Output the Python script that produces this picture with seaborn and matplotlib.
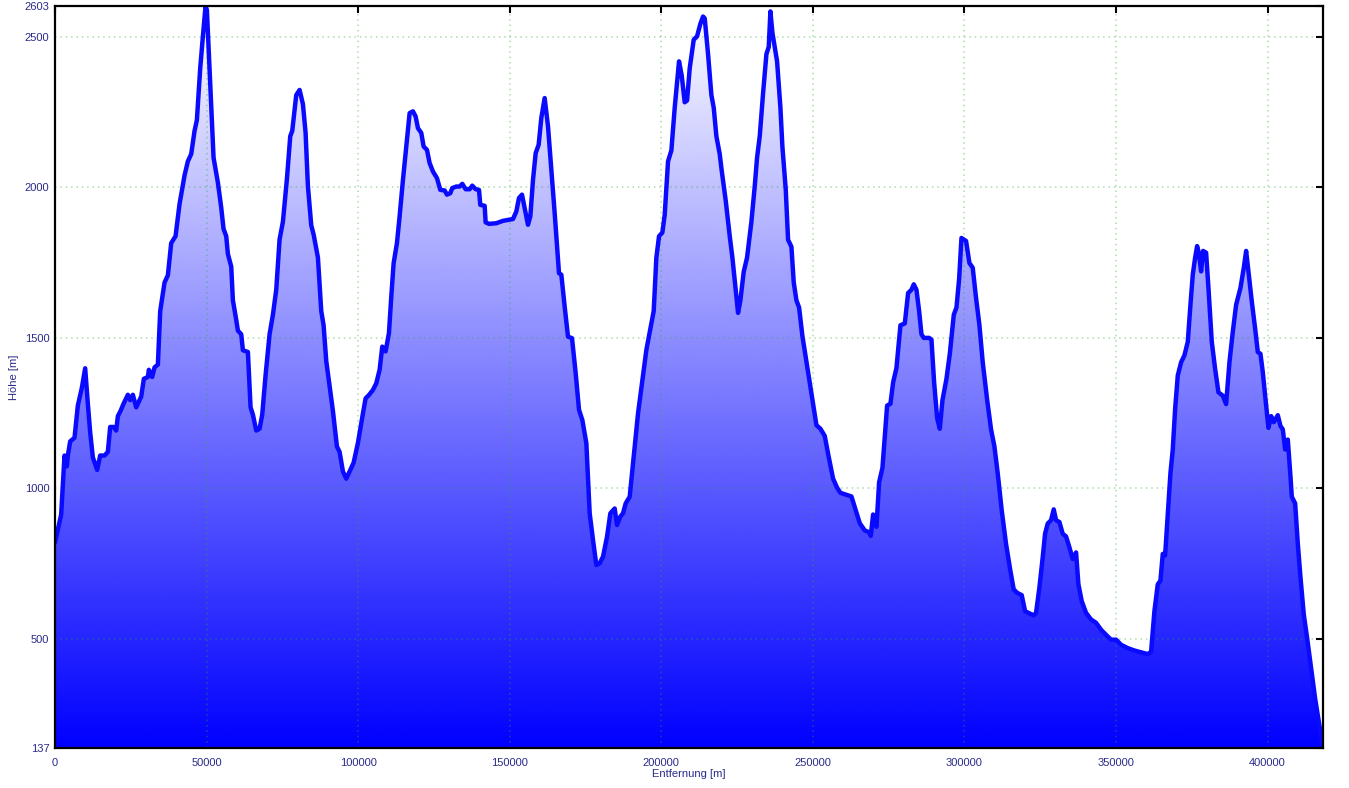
import numpy as np
import pandas as pd
import matplotlib
matplotlib.use("Agg")
import matplotlib.pyplot as plt
from matplotlib.colors import LinearSegmentedColormap
import seaborn as sns

# Distance along the track [m] and elevation [m], read from the profile
distance = [
    0, 2035, 3135, 3905, 4235, 5005, 6435, 7535, 8855, 9955,
    10835, 11605, 12485, 13915, 14905, 16335, 17435, 18205, 19305, 20185,
    20735, 21615, 22605, 24035, 24805, 25685, 26785, 28435, 29315, 30635,
    30965, 32065, 32835, 33935, 34705, 36135, 37235, 38335, 39765, 41085,
    42735, 43835, 44935, 46035, 46805, 47905, 48785, 49665, 50105, 50765,
    51535, 52305, 53735, 54835, 55605, 56485, 57035, 58135, 58685, 59785,
    60335, 61435, 61985, 63635, 64515, 65285, 66385, 67485, 68365, 69465,
    70785, 71885, 72985, 74085, 75185, 76505, 77605, 78265, 79585, 80685,
    81785, 82665, 83435, 84535, 85305, 86735, 87835, 88605, 89485, 90585,
    91685, 93005, 93885, 94985, 96085, 97185, 98505, 99935,
    101585, 102465, 103565, 104885, 105985, 107085, 107965, 109065, 110165, 110935,
    111705, 112805, 113685, 114785, 115885, 116985, 118085, 118965, 119735, 120835,
    121605, 122705, 123585, 124685, 126005, 127105, 128535, 129305, 130405, 131065,
    132385, 133485, 134365, 135465, 136785, 137665, 138765, 139865, 140305, 141735,
    142065, 143165, 145585, 147785, 151085, 152185, 153065, 154055, 154935, 156035,
    156805, 157685, 158565, 159555, 160435, 161535, 162635, 163735, 164835, 166265,
    167035, 168135, 169235, 170555, 171765, 172865, 173965, 175285, 176385, 177485,
    178585, 179685, 180785, 182105, 183205, 184635, 185405, 186505, 187385, 188265,
    189585, 190685, 192335, 193765, 195085,
    197505, 198385, 199265, 200365, 201135, 202235, 203335, 204435, 205865, 206745,
    207735, 208505, 209385, 210705, 211805, 212905, 213785, 214335, 215435, 216535,
    217305, 218185, 219285, 219835, 221265, 222585, 223465, 224565, 225335, 226105,
    227205, 228305, 229735, 230835, 231605, 232485, 233585, 234685, 235455, 236005,
    236665, 238205, 239305, 239965, 241065, 241835, 242935, 243705, 244585, 245465,
    246565, 247665, 248985, 250085, 251185, 252505, 253935, 255035, 256685, 258005,
    259105, 262735, 263835, 265485, 267135, 268565, 269115, 269885, 270985, 271865,
    272965, 274505, 275605, 276485, 277585, 278905, 280335, 281435, 282535, 283305,
    284185, 285065, 285835, 286605, 288365, 289135, 290015, 291005, 291885, 292765,
    294085, 295185, 296505, 297385, 298265, 299035,
    300550, 301650, 302750, 303850, 304950, 306050, 307480, 308790, 309890, 310990,
    312310, 313740, 315170, 316270, 317370, 318910, 320010, 321110, 322870, 323640,
    324740, 325840, 326610, 327490, 328590, 329470, 330240, 331340, 332440, 333540,
    334640, 335740, 336840, 337610, 338710, 340140, 341790, 343440, 345090, 346740,
    348390, 350040, 351690, 353890, 356090, 358290, 360490, 361590, 362690, 363790,
    364670, 365440, 366210, 367090, 367970, 368740, 369510, 370390, 371490, 372590,
    373690, 374570, 375340, 376110, 376770, 377320, 378090, 378750, 379740, 380510,
    381610, 382710, 383810, 385240, 386340, 387440, 388540, 389640, 391070, 392170,
    392940, 393710, 394810, 395910, 396790, 397670, 398440, 399210, 400310, 401190,
    402070, 403390, 404270, 405040, 405810, 406690, 407570, 408010, 409110, 409990,
    410870, 411970, 413070, 414390, 415710, 417140, 418300,
]
elevation = [
    820, 913, 1109, 1073, 1109, 1156, 1168, 1275, 1334, 1399,
    1281, 1186, 1103, 1061, 1109, 1109, 1121, 1204, 1204, 1192,
    1240, 1257, 1281, 1311, 1293, 1311, 1269, 1305, 1364, 1370,
    1394, 1370, 1402, 1411, 1589, 1684, 1708, 1815, 1838, 1945,
    2040, 2087, 2111, 2188, 2224, 2396, 2502, 2603, 2590, 2443,
    2265, 2099, 2016, 1933, 1862, 1838, 1779, 1737, 1625, 1560,
    1524, 1512, 1459, 1453, 1269, 1245, 1192, 1198, 1245, 1376,
    1512, 1577, 1660, 1827, 1886, 2028, 2170, 2188, 2307, 2324,
    2277, 2182, 2004, 1874, 1844, 1767, 1589, 1542, 1423, 1340,
    1257, 1139, 1121, 1056, 1032, 1056, 1085, 1151,
    1249, 1299, 1310, 1327, 1349, 1394, 1471, 1455, 1516, 1637,
    1748, 1815, 1904, 2025, 2136, 2247, 2253, 2236, 2197, 2181,
    2136, 2125, 2081, 2053, 2031, 1992, 1990, 1976, 1981, 1998,
    2003, 2003, 2012, 1994, 1994, 2006, 1994, 1992, 1942, 1939,
    1884, 1879, 1881, 1889, 1895, 1920, 1965, 1976, 1931, 1876,
    1904, 2025, 2114, 2142, 2231, 2297, 2203, 2059, 1915, 1715,
    1710, 1604, 1504, 1499, 1383, 1261, 1227, 1150, 917, 828,
    745, 751, 773, 839, 917, 933, 878, 906, 917, 950,
    972, 1083, 1249, 1360, 1460,
    1589, 1767, 1838, 1850, 1909, 2087, 2123, 2265, 2419, 2372,
    2283, 2289, 2396, 2491, 2502, 2544, 2568, 2562, 2443, 2307,
    2265, 2170, 2111, 2064, 1956, 1838, 1767, 1660, 1583, 1625,
    1720, 1767, 1886, 2004, 2099, 2170, 2313, 2443, 2467, 2585,
    2514, 2419, 2265, 2135, 1993, 1826, 1803, 1684, 1625, 1601,
    1506, 1435, 1352, 1281, 1210, 1198, 1174, 1115, 1032, 1002,
    985, 973, 937, 884, 860, 854, 842, 913, 872, 1020,
    1068, 1275, 1281, 1352, 1400, 1542, 1548, 1649, 1660, 1678,
    1660, 1589, 1512, 1500, 1500, 1494, 1352, 1234, 1198, 1293,
    1364, 1447, 1577, 1601, 1696, 1832,
    1822, 1749, 1733, 1632, 1543, 1419, 1296, 1196, 1140, 1050,
    927, 815, 726, 664, 653, 645, 592, 586, 578, 586,
    670, 771, 849, 883, 894, 930, 894, 888, 849, 840,
    804, 765, 787, 681, 625, 586, 564, 553, 530, 513,
    497, 497, 480, 469, 461, 455, 449, 457, 592, 681,
    693, 782, 777, 916, 1050, 1129, 1263, 1375, 1419, 1442,
    1487, 1610, 1710, 1766, 1805, 1783, 1721, 1789, 1783, 1666,
    1487, 1397, 1319, 1308, 1280, 1419, 1520, 1610, 1666, 1733,
    1789, 1721, 1621, 1531, 1453, 1447, 1386, 1308, 1201, 1240,
    1220, 1243, 1207, 1196, 1129, 1162, 1039, 972, 950, 816,
    704, 580, 502, 402, 301, 211, 137,
]

x_ticks = [0, 50000, 100000, 150000, 200000, 250000, 300000, 350000, 400000]
y_ticks = [137, 500, 1000, 1500, 2000, 2500, 2603]

assert len(distance) == len(elevation)

df = pd.DataFrame({"Entfernung": distance, "Hoehe": elevation})
x_min, x_max = df.Entfernung.min(), df.Entfernung.max()
y_min, y_max = min(y_ticks), max(y_ticks)

sns.set_style("white")
plt.rcParams['font.family'] = ['Liberation Sans', 'DejaVu Sans']
text_color = '#2a2a8a'

fig = plt.figure(figsize=(13.49, 7.88), dpi=100)
ax = fig.add_axes([55 / 1349, 40 / 788, 1268 / 1349, 742 / 788])

# gradient fill below the profile: white at the top, blue at the bottom
fill = ax.fill_between(df.Entfernung, df.Hoehe, y_min, facecolor='none', lw=0)
cmap = LinearSegmentedColormap.from_list("hoehe", ["#0000ff", "#ffffff"])
grad = np.linspace(1, 0, 512).reshape(-1, 1)
img = ax.imshow(grad, cmap=cmap, aspect='auto', origin='upper',
                extent=[x_min, x_max, y_min, y_max], zorder=1)
img.set_clip_path(fill.get_paths()[0], transform=ax.transData)

sns.lineplot(data=df, x="Entfernung", y="Hoehe", color='#0a0aff', lw=3.2,
             estimator=None, sort=False, ax=ax, zorder=3)

ax.set_xlim(x_min, x_max)
ax.set_ylim(y_min, y_max)
ax.set_xticks(x_ticks)
ax.set_xticklabels([str(t) for t in x_ticks])
ax.set_yticks(y_ticks)
ax.set_yticklabels([str(t) for t in y_ticks])

ax.set_axisbelow(False)
ax.grid(True, color='#30a830', alpha=0.4, linestyle=(0, (1, 2.5)), linewidth=1.1)
ax.tick_params(direction='in', length=5, width=1.5, top=True, right=True,
               labelsize=8, labelcolor=text_color, color='black')
ax.tick_params(axis='x', pad=7)
ax.tick_params(axis='y', pad=4)
for s in ax.spines.values():
    s.set_color('black')
    s.set_linewidth(1.6)
    s.set_zorder(4)

ax.set_xlabel("Entfernung [m]", fontsize=8, color=text_color, labelpad=1)
ax.set_ylabel("Höhe [m]", fontsize=8, color=text_color, labelpad=4)

fig.savefig("out.png", dpi=100)
